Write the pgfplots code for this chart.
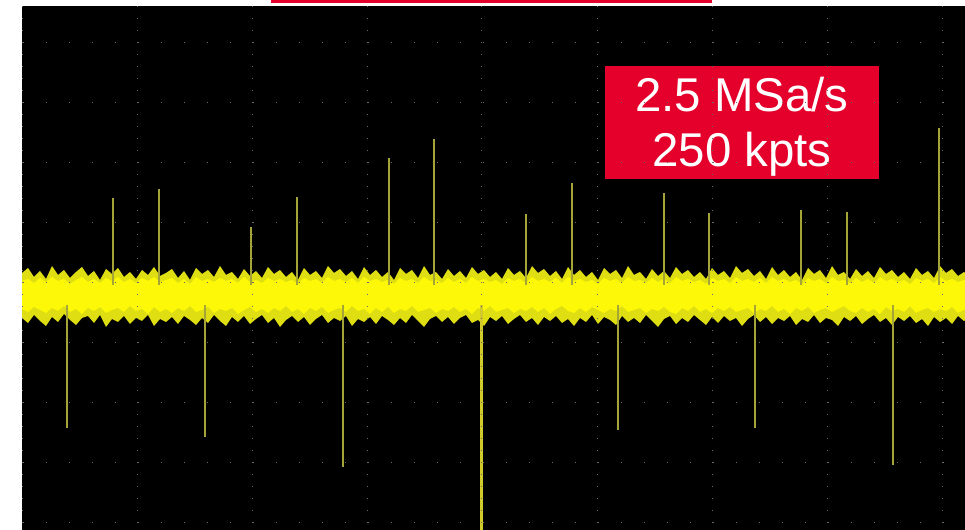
\documentclass[border=0pt]{standalone}
\usepackage{pgfplots}
\pgfplotsset{compat=1.18}
\usepackage{pgfplotstable}
\usepgfplotslibrary{fillbetween}
\usepackage{fontspec}
\newfontfamily\arial{Liberation Sans}

\definecolor{boxred}{RGB}{228,0,43}
\definecolor{gridc}{RGB}{105,105,105}
\definecolor{edgey}{RGB}{222,222,18}
\definecolor{coreY}{RGB}{252,248,8}
\definecolor{spike}{RGB}{165,165,55}

% noise band envelope, pixel units (y grows downward)
% x, outer top, inner top, inner bottom, outer bottom
\pgfplotstableread{
x ot it ib ob
22 273 281 309 318
28 268 279 312 323
34 277 283 307 315
40 271 278 310 321
46 279 282 313 326
52 266 277 308 317
58 275 281 311 322
64 270 279 306 314
70 278 284 312 320
76 272 280 309 325
82 267 277 314 318
88 276 282 308 316
94 271 279 311 323
100 280 283 307 315
106 269 278 313 327
112 274 281 310 319
118 268 277 308 322
124 277 282 312 316
130 272 279 306 324
136 279 283 311 318
142 270 278 309 321
148 275 281 314 315
154 267 277 307 326
160 276 282 312 319
166 273 280 309 322
172 269 278 313 317
178 278 283 308 324
184 271 279 311 316
190 280 284 306 320
196 268 277 312 325
202 274 281 310 318
208 270 279 307 323
214 277 282 313 315
220 266 278 309 321
226 275 281 311 326
232 272 279 308 317
238 279 283 314 322
244 269 277 310 316
250 276 282 307 324
256 271 280 312 319
262 278 283 309 315
268 267 278 313 323
274 274 281 308 318
280 270 279 311 327
286 277 282 306 320
292 272 280 312 316
298 280 284 309 322
304 268 278 314 317
310 275 281 308 325
316 271 279 311 319
322 278 283 307 315
328 266 277 313 323
334 273 281 310 318
340 269 279 308 321
346 276 282 312 316
352 271 278 306 326
358 279 283 311 319
364 267 277 309 322
370 275 281 314 317
376 270 279 308 324
382 277 282 312 316
388 272 280 307 320
394 280 284 313 325
400 268 278 309 318
406 274 281 311 323
412 270 279 306 315
418 278 283 312 321
424 266 277 310 327
430 275 281 308 319
436 272 280 313 316
442 279 283 309 322
448 269 278 311 317
454 276 282 307 324
460 271 279 312 318
466 278 283 309 315
472 267 277 314 323
478 274 281 308 320
484 270 279 311 326
490 277 282 306 317
496 272 280 312 321
502 279 284 310 316
508 268 278 308 324
514 275 281 313 319
520 271 279 309 315
526 278 283 311 322
532 266 277 307 318
538 273 281 312 325
544 269 279 308 317
550 276 282 314 321
556 271 278 309 316
562 279 283 306 323
568 267 277 311 319
574 275 281 313 326
580 270 279 308 318
586 277 282 312 322
592 272 280 307 315
598 280 284 310 324
604 268 278 313 317
610 274 281 309 320
616 270 279 311 325
622 278 283 306 316
628 266 277 312 322
634 275 281 310 318
640 272 280 308 323
646 279 283 313 315
652 269 278 309 321
658 276 282 311 327
664 271 279 307 319
670 278 283 312 316
676 267 277 314 324
682 274 281 308 318
688 270 279 311 322
694 277 282 306 315
700 272 280 312 320
706 279 284 309 325
712 268 278 313 317
718 275 281 308 323
724 271 279 311 316
730 278 283 307 321
736 266 277 312 318
742 273 281 310 326
748 269 279 308 319
754 276 282 313 315
760 271 278 309 322
766 279 283 311 317
772 267 277 306 324
778 275 281 312 318
784 270 279 309 321
790 277 282 314 316
796 272 280 308 325
802 280 284 311 319
808 268 278 307 322
814 274 281 313 315
820 270 279 310 323
826 278 283 308 318
832 266 277 312 320
838 275 281 309 326
844 272 280 306 317
850 279 283 311 321
856 269 278 313 316
862 276 282 308 324
868 271 279 312 319
874 278 283 309 315
880 267 277 314 322
886 274 281 307 318
892 270 279 311 325
898 277 282 309 317
904 272 280 312 321
910 279 284 306 316
916 268 278 313 323
922 275 281 310 319
928 271 279 308 326
934 278 283 312 317
940 266 277 309 322
946 273 281 311 318
952 269 279 307 324
958 276 282 313 316
964 272 280 310 321
970 278 283 308 318
}\noise

\begin{document}
\begin{tikzpicture}
\begin{axis}[
    at={(0,0)}, anchor=south west,
    width=471.5pt, height=262pt, scale only axis,
    xmin=22, xmax=965, ymin=6, ymax=530, y dir=reverse,
    axis background/.style={fill=black},
    axis line style={draw=none},
    axis on top,
    major tick length=0pt,
    xtick={22,137,252,367,597,712,827,942},
    ytick={43,103,163,223,343,403,463,523},
    xticklabels={}, yticklabels={},
    xmajorgrids, ymajorgrids,
    x grid style={gridc, line width=0.5pt, dash pattern=on 0.5pt off 5.5pt},
    y grid style={gridc, line width=0.5pt, dash pattern=on 0.5pt off 11pt, dash phase=11.25pt},
    extra x ticks={481.5}, extra y ticks={283},
    extra x tick labels={}, extra y tick labels={},
    extra tick style={grid style={gridc, line width=0.5pt, dash pattern=on 1pt off 1pt}},
]
\addplot[draw=none, name path=ot] table[x=x, y=ot] {\noise};
\addplot[draw=none, name path=ob] table[x=x, y=ob] {\noise};
\addplot[draw=none, name path=it] table[x=x, y=it] {\noise};
\addplot[draw=none, name path=ib] table[x=x, y=ib] {\noise};
\addplot[fill=edgey] fill between[of=ot and ob];
\addplot[fill=coreY] fill between[of=it and ib];

% glitches above and below the trace
\addplot[spike, line width=0.7pt, unbounded coords=jump] coordinates {
 (113,285) (113,198) (113,nan)
 (159,285) (159,189) (159,nan)
 (251,285) (251,227) (251,nan)
 (297,285) (297,197) (297,nan)
 (389,285) (389,158) (389,nan)
 (434,285) (434,139) (434,nan)
 (526,285) (526,214) (526,nan)
 (572,285) (572,183) (572,nan)
 (664,285) (664,193) (664,nan)
 (709,285) (709,213) (709,nan)
 (801,285) (801,210) (801,nan)
 (847,285) (847,212) (847,nan)
 (939,285) (939,128) (939,nan)
 (67,305) (67,428) (67,nan)
 (205,305) (205,437) (205,nan)
 (343,305) (343,467) (343,nan)
 (618,305) (618,430) (618,nan)
 (755,305) (755,428) (755,nan)
 (893,305) (893,465)
};
\addplot[yellow!80!black, line width=1.1pt] coordinates {(481.5,305) (481.5,530)};

\coordinate (bx1) at (axis cs:605,66);
\coordinate (bx2) at (axis cs:879,179);
\coordinate (t1) at (axis cs:742,112);
\coordinate (t2) at (axis cs:742,167);
\coordinate (rb1) at (axis cs:271,0);
\coordinate (rb2) at (axis cs:712,3);
\end{axis}
\fill[boxred] (bx1) rectangle (bx2);
\node[anchor=base, inner sep=0pt, text=white, font=\arial\fontsize{23.7}{27}\selectfont] at (t1) {2.5 MSa/s};
\node[anchor=base, inner sep=0pt, text=white, font=\arial\fontsize{23.7}{27}\selectfont] at (t2) {250 kpts};
\fill[boxred] (rb1) rectangle (rb2);
\pgfresetboundingbox
\path (-11pt,0pt) rectangle (471.5pt,265pt);
\end{tikzpicture}
\end{document}
